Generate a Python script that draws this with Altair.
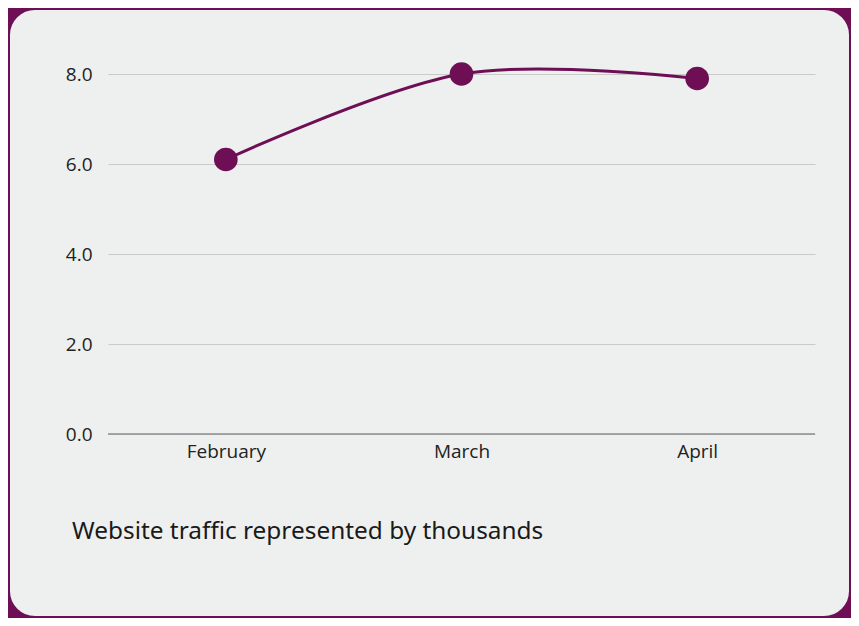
import altair as alt
import pandas as pd

months = ["February", "March", "April"]
traffic = [6.1, 8.0, 7.9]
y_ticks = [0, 2, 4, 6, 8]
caption = ["Website traffic represented by thousands"]

PURPLE = "#6E0F55"
CARD = "#EEF0EF"

df = pd.DataFrame({"month": months, "traffic": traffic})

x_enc = alt.X("month:N", sort=months, title=None,
              scale=alt.Scale(type="point", padding=0.5),
              axis=alt.Axis(labelAngle=0, labelFontSize=19, labelFont="Open Sans",
                            labelColor="#222222", labelPadding=8, ticks=False,
                            domain=False, grid=False))
y_enc = alt.Y("traffic:Q", title=None,
              scale=alt.Scale(domain=[0, 9], nice=False),
              axis=alt.Axis(values=y_ticks, format=".1f", labelFontSize=19,
                            labelFont="Open Sans", labelColor="#222222",
                            labelPadding=16, ticks=False, domain=False,
                            grid=True, gridColor="#C9CBCA", gridWidth=1))

base = alt.Chart(df)

zero_rule = alt.Chart(pd.DataFrame({"v": [0]})).mark_rule(
    color="#8C8C8C", strokeWidth=1.5
).encode(y=alt.Y("v:Q"), x=alt.value(0), x2=alt.value(707))

line = base.mark_line(color=PURPLE, strokeWidth=3, interpolate="cardinal").encode(
    x=x_enc, y=y_enc)
points = base.mark_circle(color=PURPLE, opacity=1, size=560).encode(
    x=x_enc, y=y_enc)

cap = alt.Chart(pd.DataFrame({"t": caption})).mark_text(
    align="left", baseline="alphabetic", fontSize=24.4, font="Noto Sans",
    color="#1A1A1A"
).encode(text="t:N", x=alt.value(-36), y=alt.value(510))

frame = alt.Chart(pd.DataFrame({"a": [0]})).mark_rect(
    fill=None, stroke=PURPLE, strokeWidth=60, cornerRadius=55
).encode(x=alt.value(-128), x2=alt.value(771), y=alt.value(-49), y2=alt.value(617))

chart = alt.layer(zero_rule, line, points, cap, frame).properties(
    width=707,
    height=405,
    padding={"left": 100, "top": 21, "right": 36, "bottom": 184},
    autosize=alt.AutoSizeParams(type="none"),
    background=CARD,
).configure_view(stroke=None)

chart.save("out.html", embed_options={"renderer": "svg", "actions": False})
